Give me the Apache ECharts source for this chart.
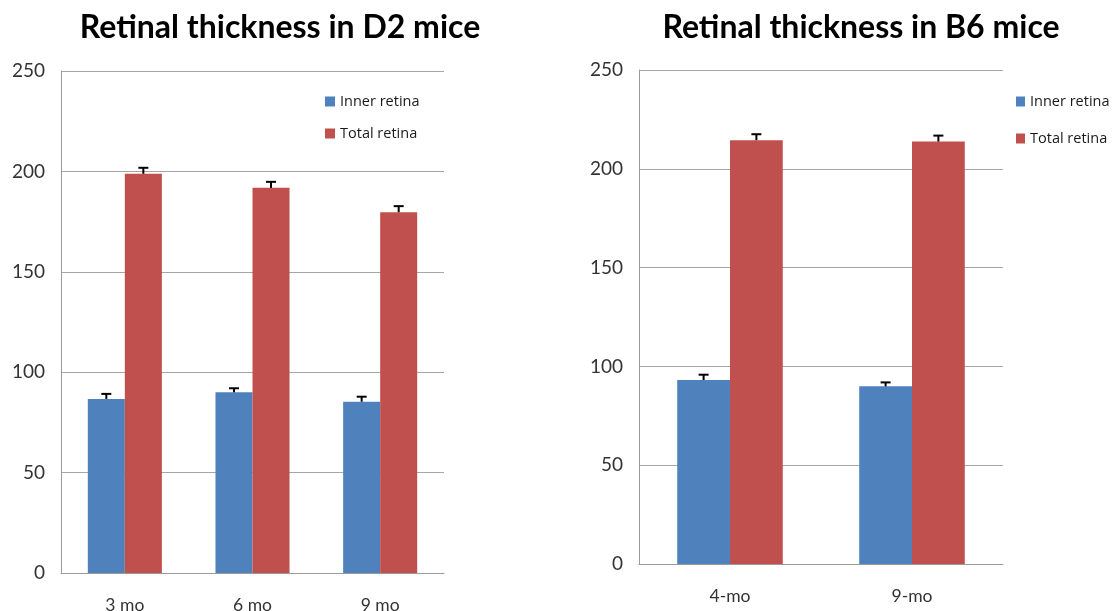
<!DOCTYPE html>
<html>
<head>
<meta charset="utf-8">
<script src="https://cdn.jsdelivr.net/npm/echarts@6/dist/echarts.min.js"></script>
<style>
  html, body { margin: 0; padding: 0; background: #fff; }
  #chart { width: 1112px; height: 611px; }
</style>
</head>
<body>
<div id="chart"></div>
<script>
// Retinal thickness (µm) by age, mean with upper error bar
const d2Categories = ['3 mo', '6 mo', '9 mo'];
const d2Inner = [86.7, 90, 85.3];
const d2InnerErr = [2.5, 2, 2.5];
const d2Total = [198.8, 191.8, 179.7];
const d2TotalErr = [3, 3, 3];

const b6Categories = ['4-mo', '9-mo'];
const b6Inner = [93.1, 89.9];
const b6InnerErr = [2.7, 2];
const b6Total = [214.5, 213.8];
const b6TotalErr = [3, 3];

const yTicks = { min: 0, max: 250, interval: 50 };
const seriesNames = ['Inner retina', 'Total retina'];
const BLUE = '#4F81BD';
const RED = '#C0504D';
const BAR_FRAC = 0.29;

const chart = echarts.init(document.getElementById('chart'));

// Whisker above each bar: side = -1 for the left bar of a pair, +1 for the right one
function errorBar(values, errs, side, gridIdx) {
  return {
    type: 'custom',
    xAxisIndex: gridIdx,
    yAxisIndex: gridIdx,
    silent: true,
    z: 5,
    data: values.map((v, i) => [i, v, v + errs[i]]),
    renderItem: function (params, api) {
      const band = api.size([1, 0])[0];
      const dx = side * band * BAR_FRAC / 2;
      const base = api.coord([api.value(0), api.value(1)]);
      const top = api.coord([api.value(0), api.value(2)]);
      const x = base[0] + dx;
      const cap = 5;
      const style = { stroke: '#000', lineWidth: 2 };
      return {
        type: 'group',
        children: [
          { type: 'line', shape: { x1: x, y1: base[1], x2: x, y2: top[1] }, style: style },
          { type: 'line', shape: { x1: x - cap, y1: top[1], x2: x + cap, y2: top[1] }, style: style }
        ]
      };
    }
  };
}

function xAxisFor(cats, gridIdx) {
  return {
    type: 'category',
    gridIndex: gridIdx,
    data: cats,
    axisLine: { lineStyle: { color: '#9a9a9a', width: 1 } },
    axisTick: { show: false },
    axisLabel: { color: '#333', fontFamily: 'Lato', fontSize: 17.5, margin: 23 }
  };
}

function yAxisFor(gridIdx) {
  return {
    type: 'value',
    gridIndex: gridIdx,
    min: yTicks.min,
    max: yTicks.max,
    interval: yTicks.interval,
    axisLine: { show: true, lineStyle: { color: '#9a9a9a', width: 1 } },
    axisTick: { show: false },
    splitLine: { lineStyle: { color: '#a6a6a6', width: 1 } },
    axisLabel: { color: '#333', fontFamily: 'Lato', fontSize: 19, margin: 16 }
  };
}

function barsFor(values, name, color, gridIdx) {
  return {
    type: 'bar',
    name: name,
    xAxisIndex: gridIdx,
    yAxisIndex: gridIdx,
    data: values,
    barWidth: (BAR_FRAC * 100) + '%',
    barGap: '0%',
    itemStyle: { color: color },
    emphasis: { disabled: true }
  };
}

const titleStyle = { fontFamily: 'Lato', fontSize: 32, fontWeight: 'bold', color: '#000' };
const legendText = { fontFamily: 'Open Sans', fontSize: 14.5, color: '#1a1a1a' };

chart.setOption({
  animation: false,
  color: [BLUE, RED],
  title: [
    { text: 'Retinal thickness in D2 mice', left: 280, top: 12, padding: 0, textAlign: 'center', textStyle: titleStyle },
    { text: 'Retinal thickness in B6 mice', left: 861, top: 12, padding: 0, textAlign: 'center', textStyle: titleStyle }
  ],
  legend: [
    {
      data: seriesNames, orient: 'vertical', left: 325, top: 94, padding: 0,
      itemWidth: 10, itemHeight: 10, itemGap: 17, icon: 'rect',
      textStyle: legendText, selectedMode: false
    },
    {
      data: seriesNames, orient: 'vertical', left: 1016, top: 94, padding: 0,
      itemWidth: 9, itemHeight: 10, itemGap: 22, icon: 'rect',
      textStyle: legendText, selectedMode: false
    }
  ],
  grid: [
    { left: 61, top: 71, width: 383, height: 502, outerBoundsMode: 'none' },
    { left: 639, top: 70, width: 364, height: 494, outerBoundsMode: 'none' }
  ],
  xAxis: [xAxisFor(d2Categories, 0), xAxisFor(b6Categories, 1)],
  yAxis: [yAxisFor(0), yAxisFor(1)],
  series: [
    barsFor(d2Inner, seriesNames[0], BLUE, 0),
    barsFor(d2Total, seriesNames[1], RED, 0),
    barsFor(b6Inner, seriesNames[0], BLUE, 1),
    barsFor(b6Total, seriesNames[1], RED, 1),
    errorBar(d2Inner, d2InnerErr, -1, 0),
    errorBar(d2Total, d2TotalErr, 1, 0),
    errorBar(b6Inner, b6InnerErr, -1, 1),
    errorBar(b6Total, b6TotalErr, 1, 1)
  ]
});
</script>
</body>
</html>
